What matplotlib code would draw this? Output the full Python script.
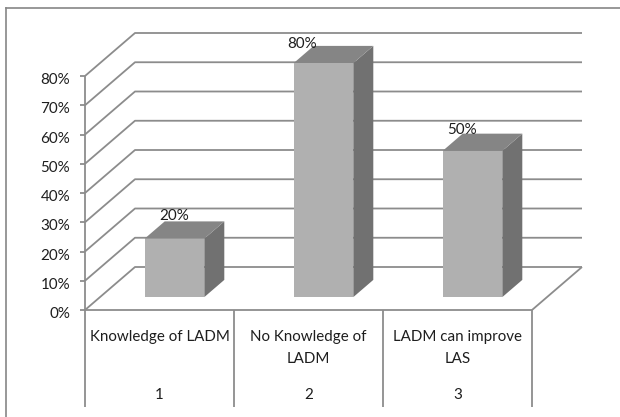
import matplotlib
matplotlib.use('Agg')
import matplotlib.pyplot as plt
from matplotlib.lines import Line2D
from matplotlib.patches import Polygon

categories = ['Knowledge of LADM', 'No Knowledge of\nLADM', 'LADM can improve\nLAS']
group_labels = ['1', '2', '3']
values = [20, 80, 50]
value_labels = ['20%', '80%', '50%']
ticks = [0, 10, 20, 30, 40, 50, 60, 70, 80]

W, H = 620, 417
FONT = 'Lato'
TEXT = '#1e1e1e'
LINE = '#8c8c8c'
FS = 10.9

# oblique depth of the box, in category and percent units
DEPTH_X = 50 / 149
DEPTH_Y = 43 / 2.925

fig = plt.figure(figsize=(W / 100, H / 100), dpi=100)
ax = fig.add_axes([85 / W, 1 - 310 / H, 447 / W, 234 / H])
ax.set_xlim(0, 3)
ax.set_ylim(0, 80)
ax.axis('off')


def proj(x, y, d):
    return (x + d * DEPTH_X, y + d * DEPTH_Y)


def line(pts, lw=1.3, color=LINE):
    xs, ys = zip(*pts)
    ax.plot(xs, ys, color=color, lw=lw, clip_on=False, solid_capstyle='butt', zorder=2)


# floor and back wall
line([proj(3, 0, 0), proj(3, 0, 1)])
for t in ticks:
    line([proj(0, t, 0), proj(0, t, 1), proj(3, t, 1)])
    line([(-5 / 149, t), (0, t)])
    ax.annotate(f'{t}%', (0, t), xytext=(-15, -4), textcoords='offset pixels', ha='right',
                va='center', fontsize=FS, family=FONT, color=TEXT, annotation_clip=False)

# front axes
line([(0, 0), (0, 80)])
line([(0, 0), (3, 0)])
for i in range(4):
    line([(i, 0), (i, -33)])

# bars
BAR_W = 0.40
D0, D1 = 0.30, 0.70
label_dx = [0, -21, -10]
label_dy = [23, 19, 21]
for i, v in enumerate(values):
    left = i + 0.5 - BAR_W / 2
    right = left + BAR_W
    front = [proj(left, 0, D0), proj(right, 0, D0), proj(right, v, D0), proj(left, v, D0)]
    top = [proj(left, v, D0), proj(right, v, D0), proj(right, v, D1), proj(left, v, D1)]
    side = [proj(right, 0, D0), proj(right, 0, D1), proj(right, v, D1), proj(right, v, D0)]
    ax.add_patch(Polygon(side, fc='#717171', ec='none', clip_on=False, zorder=3))
    ax.add_patch(Polygon(top, fc='#858585', ec='none', clip_on=False, zorder=3))
    ax.add_patch(Polygon(front, fc='#b0b0b0', ec='none', clip_on=False, zorder=4))
    ax.annotate(value_labels[i], proj(i + 0.5, v, D0), xytext=(label_dx[i], label_dy[i]),
                textcoords='offset pixels', ha='center', va='center', fontsize=FS,
                family=FONT, color=TEXT, zorder=5, annotation_clip=False)

# category labels under the floor
for i, c in enumerate(categories):
    ax.text(i + 0.5, -6.9, c, ha='center', va='top', fontsize=FS, family=FONT,
            color=TEXT, linespacing=1.68)
    ax.text(i + 0.5, -29.0, group_labels[i], ha='center', va='center', fontsize=FS,
            family=FONT, color=TEXT)

# chart frame, cut off by the right and bottom edges
for xs, ys in [((6, 6), (417, 8)), ((6, 620), (8, 8))]:
    fig.add_artist(Line2D([x / W for x in xs], [1 - y / H for y in ys], color='#868686', lw=1.2))

fig.savefig('out.png', dpi=100)
